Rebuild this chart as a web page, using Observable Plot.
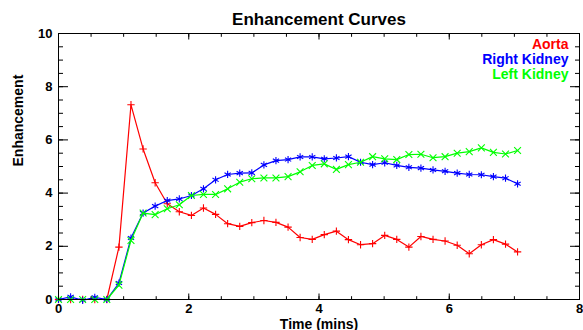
<!DOCTYPE html>
<html>
<head>
<meta charset="utf-8">
<script src="https://cdn.jsdelivr.net/npm/d3@7"></script>
<script src="https://cdn.jsdelivr.net/npm/@observablehq/plot@0.6"></script>
<style>
  html, body { margin: 0; padding: 0; background: #fff; }
  svg { display: block; }
</style>
</head>
<body>
<div id="chart"></div>
<script>
const times = [0, 0.186, 0.371, 0.557, 0.742, 0.928, 1.113, 1.299, 1.484, 1.670, 1.855, 2.041, 2.226, 2.412, 2.597, 2.783, 2.968, 3.154, 3.339, 3.525, 3.710, 3.896, 4.081, 4.267, 4.452, 4.638, 4.823, 5.009, 5.194, 5.380, 5.565, 5.751, 5.936, 6.122, 6.307, 6.493, 6.678, 6.864, 7.049];
const aorta = [0, 0, 0, 0, 0, 1.97, 7.32, 5.66, 4.39, 3.6, 3.3, 3.16, 3.44, 3.2, 2.85, 2.75, 2.89, 2.97, 2.9, 2.72, 2.33, 2.26, 2.44, 2.57, 2.25, 2.06, 2.1, 2.41, 2.26, 1.97, 2.37, 2.26, 2.2, 2.04, 1.72, 2.06, 2.25, 2.08, 1.79];
const rightKidney = [0, 0.1, -0.03, 0.08, 0, 0.62, 2.31, 3.25, 3.51, 3.72, 3.78, 3.91, 4.16, 4.5, 4.7, 4.75, 4.76, 5.06, 5.22, 5.26, 5.36, 5.36, 5.29, 5.32, 5.37, 5.16, 5.07, 5.14, 5.04, 4.97, 4.94, 4.87, 4.82, 4.75, 4.7, 4.69, 4.62, 4.56, 4.35];
const leftKidney = [0, 0, 0, 0, 0, 0.54, 2.22, 3.25, 3.19, 3.41, 3.56, 3.91, 3.95, 3.95, 4.16, 4.41, 4.54, 4.57, 4.57, 4.62, 4.8, 5.04, 5.1, 4.89, 5.07, 5.16, 5.37, 5.29, 5.26, 5.45, 5.46, 5.33, 5.37, 5.5, 5.56, 5.7, 5.53, 5.47, 5.6];

const seriesNames = ["Aorta", "Right Kidney", "Left Kidney"];
const seriesValues = [aorta, rightKidney, leftKidney];
const seriesColors = ["#ff0000", "#0000ff", "#00ff00"];
const seriesSymbols = ["plus", "asterisk", "times"];
const seriesR = [2.5, 3.4, 3.2];

const xMajor = [0, 2, 4, 6, 8];
const xMinor = d3.range(0, 8.01, 0.5);
const yMajor = [0, 2, 4, 6, 8, 10];
const yMinor = d3.range(0, 10.01, 0.5);

const title = "Enhancement Curves";
const xLabel = "Time (mins)";
const yLabel = "Enhancement";

const font = "'Liberation Sans', Arial, Helvetica, sans-serif";

const seriesMarks = seriesNames.flatMap((name, k) => {
  const data = times.map((t, i) => ({t, v: seriesValues[k][i]}));
  return [
    Plot.line(data, {x: "t", y: "v", stroke: seriesColors[k], strokeWidth: 1.2}),
    Plot.dot(data, {x: "t", y: "v", stroke: seriesColors[k], symbol: seriesSymbols[k], r: seriesR[k], strokeWidth: 1.1})
  ];
});

const legendMarks = seriesNames.map((name, k) =>
  Plot.text([name], {frameAnchor: "top-right", dx: -11, dy: 15 + 15 * k, fill: seriesColors[k],
    textAnchor: "end", lineAnchor: "bottom", fontSize: 14, fontWeight: "bold"})
);

const chart = Plot.plot({
  width: 583,
  height: 330,
  marginLeft: 58,
  marginRight: 4,
  marginTop: 33,
  marginBottom: 31,
  style: {fontFamily: font, fontWeight: "bold", fontSize: "13px", color: "black", background: "white"},
  x: {domain: [0, 8]},
  y: {domain: [0, 10]},
  marks: [
    ...seriesMarks,
    Plot.frame({stroke: "black", strokeWidth: 1}),
    // labels
    Plot.axisX(xMajor, {anchor: "bottom", tickSize: 0, tickPadding: 4, label: null, fontSize: 13, fontWeight: "bold"}),
    Plot.axisY(yMajor, {anchor: "left", tickSize: 0, tickPadding: 6, label: null, fontSize: 13, fontWeight: "bold"}),
    // inward ticks: bottom/top
    Plot.axisX(xMajor, {anchor: "bottom", tickSize: 5.5, dy: -5.5, text: null, label: null}),
    Plot.axisX(xMinor, {anchor: "bottom", tickSize: 2.8, dy: -2.8, text: null, label: null}),
    Plot.axisX(xMajor, {anchor: "top", tickSize: 5.5, dy: 5.5, text: null, label: null}),
    Plot.axisX(xMinor, {anchor: "top", tickSize: 2.8, dy: 2.8, text: null, label: null}),
    // inward ticks: left/right
    Plot.axisY(yMajor, {anchor: "left", tickSize: 10, dx: 10, text: null, label: null}),
    Plot.axisY(yMinor, {anchor: "left", tickSize: 5, dx: 5, text: null, label: null}),
    Plot.axisY(yMajor, {anchor: "right", tickSize: 10, dx: -10, text: null, label: null}),
    Plot.axisY(yMinor, {anchor: "right", tickSize: 5, dx: -5, text: null, label: null}),
    // titles
    Plot.text([title], {frameAnchor: "top", dy: -9, lineAnchor: "bottom", fontSize: 17, fontWeight: "bold", fill: "black"}),
    Plot.text([xLabel], {frameAnchor: "bottom", dy: 29, lineAnchor: "bottom", fontSize: 14, fontWeight: "bold", fill: "black"}),
    Plot.text([yLabel], {frameAnchor: "left", dx: -40, rotate: -90, fontSize: 14, fontWeight: "bold", fill: "black"}),
    ...legendMarks
  ]
});

document.getElementById("chart").appendChild(chart);
</script>
</body>
</html>
